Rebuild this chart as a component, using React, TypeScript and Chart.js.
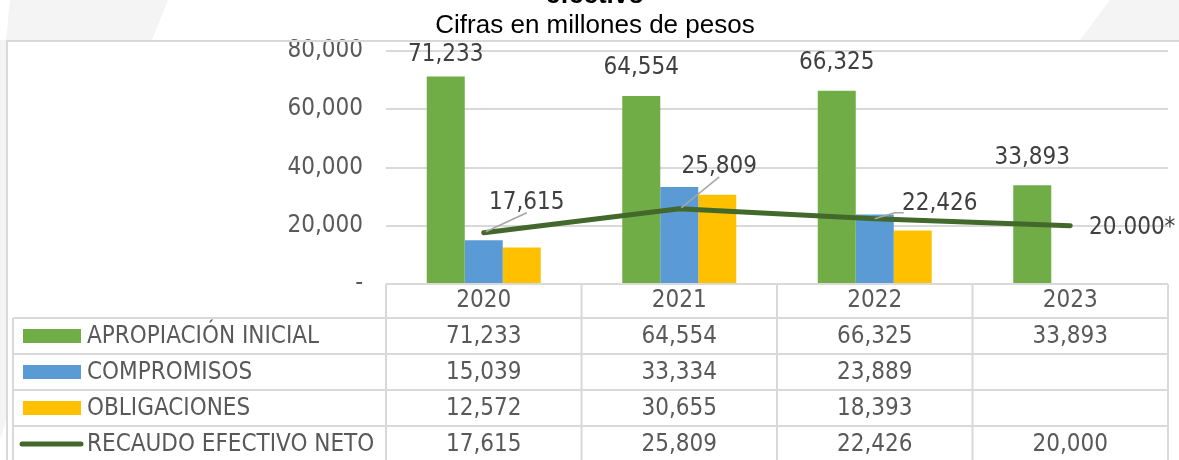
import React, { useEffect, useRef } from "react";
import { Chart, registerables } from "chart.js";

Chart.register(...registerables);

// ---- data ----
const years = ["2020", "2021", "2022", "2023"];
const apropiacion = [71233, 64554, 66325, 33893];
const compromisos: (number | null)[] = [15039, 33334, 23889, null];
const obligaciones: (number | null)[] = [12572, 30655, 18393, null];
const recaudo = [17615, 25809, 22426, 20000];
const recaudoPointLabels: (string | null)[] = [null, null, null, "20.000*"];
const seriesNames = ["APROPIACIÓN INICIAL", "COMPROMISOS", "OBLIGACIONES", "RECAUDO EFECTIVO NETO"];
const titleLines = ["efectivo", "Cifras en millones de pesos"];
const yMin = 0;
const yMax = 80000;
const yStep = 20000;

// ---- styles ----
const GREEN = "#70AD47";
const BLUE = "#5B9BD5";
const GOLD = "#FFC000";
const LINE = "#43682B";
const GRID = "#d9d9d9";
const TEXT = "#595959";
const LABEL = "#404040";
const FONT = "'Liberation Sans Narrow', 'DejaVu Sans Condensed', sans-serif";
const FS = 24;
// label placement (offset of label centre from its point), leader flag
const lineLabelOffsets = [
  { dx: 43, dy: -30, leader: "up" },
  { dx: 40, dy: -42, leader: "up" },
  { dx: 65, dy: -15, leader: "side" },
  { dx: 62, dy: 2, leader: "none" },
];

const fmt = (v: number) => v.toLocaleString("en-US");

const decorPlugin = {
  id: "decor",
  beforeDraw(chart: any) {
    const { ctx, width, height } = chart;
    ctx.save();
    ctx.fillStyle = "#ffffff";
    ctx.fillRect(0, 0, width, height);
    // faint background shapes
    ctx.fillStyle = "#f4f4f4";
    ctx.beginPath();
    ctx.moveTo(10, 0); ctx.lineTo(168, 0); ctx.lineTo(152, 40); ctx.lineTo(6, 40); ctx.closePath(); ctx.fill();
    ctx.beginPath();
    ctx.moveTo(0, 40); ctx.lineTo(6, 40); ctx.lineTo(6, 420); ctx.lineTo(0, 440); ctx.closePath(); ctx.fill();
    ctx.beginPath();
    ctx.moveTo(1110, 0); ctx.lineTo(width, 0); ctx.lineTo(width, 40); ctx.lineTo(1080, 40); ctx.closePath(); ctx.fill();
    ctx.restore();
  },
  afterDraw(chart: any) {
    const { ctx, width, height, chartArea: ca, scales } = chart;
    const x = scales.x;
    ctx.save();
    // outer frame
    ctx.strokeStyle = GRID;
    ctx.lineWidth = 2;
    ctx.beginPath();
    ctx.moveTo(7, height); ctx.lineTo(7, 41); ctx.lineTo(width, 41);
    ctx.stroke();
    // title
    ctx.fillStyle = "#000";
    ctx.textAlign = "center";
    ctx.textBaseline = "alphabetic";
    ctx.font = `bold 26px 'Liberation Sans', Arial, sans-serif`;
    ctx.fillText(titleLines[0], 595, 3);
    ctx.font = `26px 'Liberation Sans', Arial, sans-serif`;
    ctx.fillText(titleLines[1], 595, 33);

    // data table
    const n = years.length;
    const cw = (ca.right - ca.left) / n;
    const top = ca.bottom;
    const headerH = 34;
    const rowH = 36;
    const tableLeft = 13;
    ctx.strokeStyle = GRID;
    ctx.lineWidth = 2;
    ctx.beginPath();
    ctx.moveTo(ca.left, top); ctx.lineTo(ca.right, top);
    for (let i = 0; i <= n; i++) {
      const xx = ca.left + i * cw;
      ctx.moveTo(xx, top); ctx.lineTo(xx, height);
    }
    for (let r = 0; r < 4; r++) {
      const yy = top + headerH + r * rowH;
      ctx.moveTo(tableLeft, yy); ctx.lineTo(ca.right, yy);
    }
    ctx.moveTo(tableLeft, top + headerH); ctx.lineTo(tableLeft, height);
    ctx.stroke();

    ctx.font = `${FS}px ${FONT}`;
    ctx.fillStyle = TEXT;
    ctx.textAlign = "center";
    ctx.textBaseline = "middle";
    years.forEach((yr, i) => ctx.fillText(yr, x.getPixelForValue(i), top + headerH / 2));

    const rows: (number | null)[][] = [apropiacion, compromisos, obligaciones, recaudo];
    const colors = [GREEN, BLUE, GOLD, LINE];
    rows.forEach((vals, r) => {
      const cy = top + headerH + r * rowH + rowH / 2;
      if (r < 3) {
        ctx.fillStyle = colors[r];
        ctx.fillRect(23, cy - 7, 58, 14);
      } else {
        ctx.strokeStyle = colors[r];
        ctx.lineWidth = 5;
        ctx.lineCap = "round";
        ctx.beginPath();
        ctx.moveTo(22, cy); ctx.lineTo(81, cy);
        ctx.stroke();
      }
      ctx.fillStyle = TEXT;
      ctx.textAlign = "left";
      ctx.fillText(seriesNames[r], 87, cy + 1);
      ctx.textAlign = "center";
      vals.forEach((v, i) => {
        if (v !== null && v !== undefined) ctx.fillText(fmt(v), x.getPixelForValue(i), cy + 1);
      });
    });
    ctx.restore();
  },
  afterDatasetsDraw(chart: any) {
    const { ctx, chartArea: ca } = chart;
    ctx.save();
    ctx.font = `${FS}px ${FONT}`;
    ctx.fillStyle = LABEL;
    ctx.textAlign = "center";
    ctx.textBaseline = "middle";
    // green bar labels
    const barMeta = chart.getDatasetMeta(1);
    barMeta.data.forEach((el: any, i: number) => {
      const v = apropiacion[i];
      if (v == null) return;
      const y = Math.max(el.y - 28, ca.top + 4);
      ctx.fillText(fmt(v), el.x, y);
    });
    // line labels with leaders
    const lineMeta = chart.getDatasetMeta(0);
    lineMeta.data.forEach((el: any, i: number) => {
      const o = lineLabelOffsets[i];
      const text = recaudoPointLabels[i] ?? fmt(recaudo[i]);
      const cx = el.x + o.dx;
      const cy = el.y + o.dy;
      ctx.strokeStyle = "#a6a6a6";
      ctx.lineWidth = 1.5;
      if (o.leader === "up") {
        ctx.beginPath();
        ctx.moveTo(el.x + 2, el.y - 1);
        ctx.lineTo(cx, cy + 10);
        ctx.stroke();
      } else if (o.leader === "side") {
        ctx.beginPath();
        ctx.moveTo(el.x, el.y);
        ctx.lineTo(cx - 45, cy + 9);
        ctx.lineTo(cx - 36, cy + 9);
        ctx.stroke();
      }
      ctx.fillStyle = LABEL;
      ctx.fillText(text, cx, cy);
    });
    ctx.restore();
  },
};

export default function App() {
  const ref = useRef<HTMLCanvasElement | null>(null);
  useEffect(() => {
    document.body.style.margin = "0";
    if (!ref.current) return;
    const chart = new Chart(ref.current, {
      type: "bar",
      data: {
        labels: years,
        datasets: [
          {
            type: "line",
            label: seriesNames[3],
            data: recaudo,
            borderColor: LINE,
            backgroundColor: LINE,
            borderWidth: 5,
            pointRadius: 0,
            borderCapStyle: "round",
            borderJoinStyle: "round",
            order: 0,
          } as any,
          { label: seriesNames[0], data: apropiacion, backgroundColor: GREEN, order: 1 },
          { label: seriesNames[1], data: compromisos, backgroundColor: BLUE, order: 1 },
          { label: seriesNames[2], data: obligaciones, backgroundColor: GOLD, order: 1 },
        ],
      },
      options: {
        responsive: false,
        animation: false,
        layout: { padding: { left: 0, right: 11, top: 51, bottom: 176 } },
        datasets: { bar: { categoryPercentage: 0.583, barPercentage: 1 } },
        plugins: { legend: { display: false }, tooltip: { enabled: false }, title: { display: false } },
        scales: {
          x: { display: false },
          y: {
            min: yMin,
            max: yMax,
            afterFit: (s: any) => { s.width = 386; },
            ticks: {
              stepSize: yStep,
              padding: 23,
              color: TEXT,
              font: { family: FONT, size: FS },
              callback: (v: any) => (Number(v) === 0 ? "-" : fmt(Number(v))),
            },
            grid: {
              color: (c: any) => (c.tick && c.tick.value === 0 ? "rgba(0,0,0,0)" : GRID),
              lineWidth: 2,
              drawTicks: false,
            },
            border: { display: false },
          },
        },
      },
      plugins: [decorPlugin],
    });
    return () => chart.destroy();
  }, []);
  return (
    <div style={{ width: 1179, height: 460, position: "relative" }}>
      <canvas ref={ref} width={1179} height={460} style={{ display: "block" }} />
    </div>
  );
}
